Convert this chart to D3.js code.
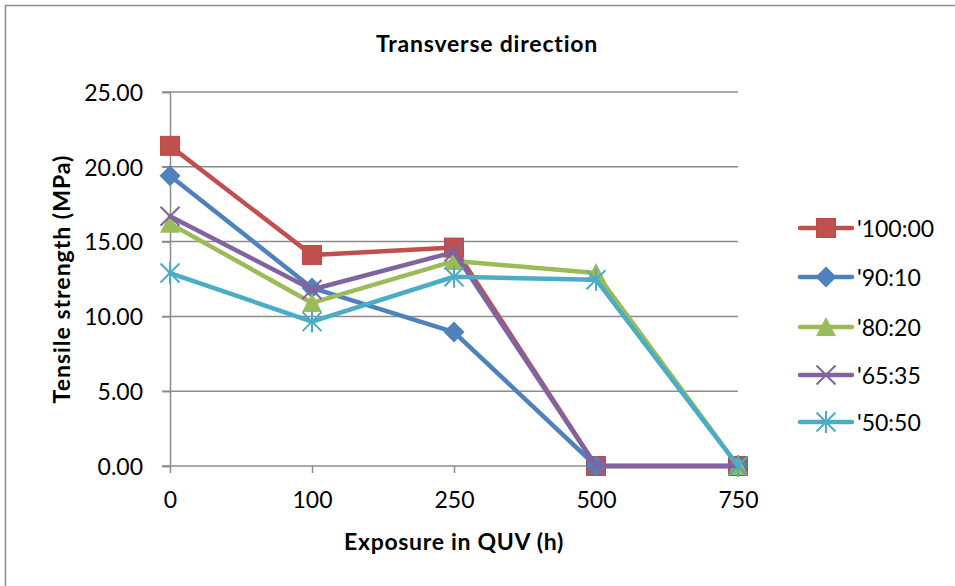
<!DOCTYPE html>
<html><head><meta charset="utf-8">
<script src="https://cdn.jsdelivr.net/npm/d3@7"></script>
<style>body{margin:0;background:#fff}svg{display:block;font-family:Lato,"Liberation Sans",sans-serif}</style>
</head><body>
<svg id="c" width="955" height="586"></svg>
<script>
const categories = ["0","100","250","500","750"];
const seriesNames = ["'100:00","'90:10","'80:20","'65:35","'50:50"];
const s100_00 = [21.4, 14.1, 14.6, 0, 0];
const s90_10  = [19.4, 11.9, 8.95, 0, 0];
const s80_20  = [16.2, 10.9, 13.7, 12.9, 0];
const s65_35  = [16.7, 11.8, 14.3, 0, 0];
const s50_50  = [12.9, 9.65, 12.65, 12.45, 0];
const yTicks = [0, 5, 10, 15, 20, 25];
const colors = ["#C0504D","#4F81BD","#9BBB59","#8064A2","#4BACC6"];
const markers = ["square","diamond","triangle","x","star"];
const series = [s100_00, s90_10, s80_20, s65_35, s50_50];

const svg = d3.select("#c");
svg.append("rect").attr("x",5.5).attr("y",5.5).attr("width",1000).attr("height",1000)
  .attr("fill","#fff").attr("stroke","#8c8c8c").attr("stroke-width",1.5);

const x = d3.scalePoint().domain(categories).range([170, 738]);
const y = d3.scaleLinear().domain([0, 25]).range([466, 92]);

// gridlines
svg.append("g").selectAll("line").data(yTicks.filter(d=>d>0)).join("line")
  .attr("x1",162).attr("x2",738).attr("y1",d=>y(d)).attr("y2",d=>y(d))
  .attr("stroke","#8c8c8c").attr("stroke-width",1.5);

// y axis
const ya = svg.append("g").attr("transform","translate(170,0)")
  .call(d3.axisLeft(y).tickValues(yTicks).tickSize(8).tickPadding(6).tickFormat(d3.format(".2f")));
// x axis
const xa = svg.append("g").attr("transform","translate(0,466)")
  .call(d3.axisBottom(x).tickSize(7).tickPadding(5));
[ya, xa].forEach(a=>{
  a.select(".domain").attr("stroke","#8c8c8c").attr("stroke-width",1.5);
  a.selectAll(".tick line").attr("stroke","#8c8c8c").attr("stroke-width",1.5);
  a.selectAll("text").attr("font-size",23).attr("fill","#000").attr("font-family","Lato");
});
ya.selectAll(".tick line").attr("x1",0);
ya.selectAll("text").attr("x",-27).attr("dy","0.36em");
xa.selectAll("text").attr("y",42).attr("dy",0);
xa.select(".domain").attr("d","M162,0H738");

function drawMarker(g, type, cx, cy, color, s) {
  s = s || 1;
  if (type==="square") {
    g.append("rect").attr("x",cx-9.5*s).attr("y",cy-9.5*s).attr("width",19*s).attr("height",19*s)
      .attr("fill",color).attr("stroke","#b84a47").attr("stroke-width",1);
  } else if (type==="diamond") {
    const r=10.5*s;
    g.append("path").attr("d",`M${cx},${cy-r}L${cx+r},${cy}L${cx},${cy+r}L${cx-r},${cy}Z`).attr("fill",color);
  } else if (type==="triangle") {
    const r=10*s;
    g.append("path").attr("d",`M${cx},${cy-r}L${cx+r},${cy+r*0.9}L${cx-r},${cy+r*0.9}Z`).attr("fill",color);
  } else if (type==="x") {
    const r=9.5*s;
    g.append("path").attr("d",`M${cx-r},${cy-r}L${cx+r},${cy+r}M${cx-r},${cy+r}L${cx+r},${cy-r}`)
      .attr("stroke",color).attr("stroke-width",2);
  } else if (type==="star") {
    const r=9.5*s;
    g.append("path").attr("d",`M${cx-r},${cy-r}L${cx+r},${cy+r}M${cx-r},${cy+r}L${cx+r},${cy-r}M${cx},${cy-r*1.15}L${cx},${cy+r*1.15}`)
      .attr("stroke",color).attr("stroke-width",2);
  }
}

const line = d3.line().x((d,i)=>x(categories[i])).y(d=>y(d));
series.forEach((vals, si) => {
  const g = svg.append("g");
  g.append("path").attr("d", line(vals)).attr("fill","none")
    .attr("stroke", colors[si]).attr("stroke-width",4.5).attr("stroke-linejoin","round").attr("stroke-linecap","round");
  vals.forEach((v,i)=>drawMarker(g, markers[si], x(categories[i]), y(v), colors[si]));
});

// title
svg.append("text").attr("x",487).attr("y",52).attr("text-anchor","middle")
  .attr("font-size",23).attr("font-weight","bold").attr("letter-spacing",0.8).text("Transverse direction");
// axis titles
svg.append("text").attr("x",454).attr("y",550).attr("text-anchor","middle")
  .attr("font-size",23).attr("font-weight","bold").attr("letter-spacing",0.7).text("Exposure in QUV (h)");
svg.append("text").attr("transform","translate(70,279) rotate(-90)").attr("text-anchor","middle")
  .attr("font-size",23).attr("font-weight","bold").attr("letter-spacing",1).text("Tensile strength (MPa)");

// legend
const legY = [228, 277, 327, 375, 422];
seriesNames.forEach((n, i) => {
  const g = svg.append("g");
  g.append("line").attr("x1",800).attr("x2",852).attr("y1",legY[i]).attr("y2",legY[i])
    .attr("stroke",colors[i]).attr("stroke-width",4.5).attr("stroke-linecap","round");
  drawMarker(g, markers[i], 826, legY[i], colors[i]);
  g.append("text").attr("x",857).attr("y",legY[i]+8.5).attr("font-size",23).text(n);
});
</script>
</body></html>
